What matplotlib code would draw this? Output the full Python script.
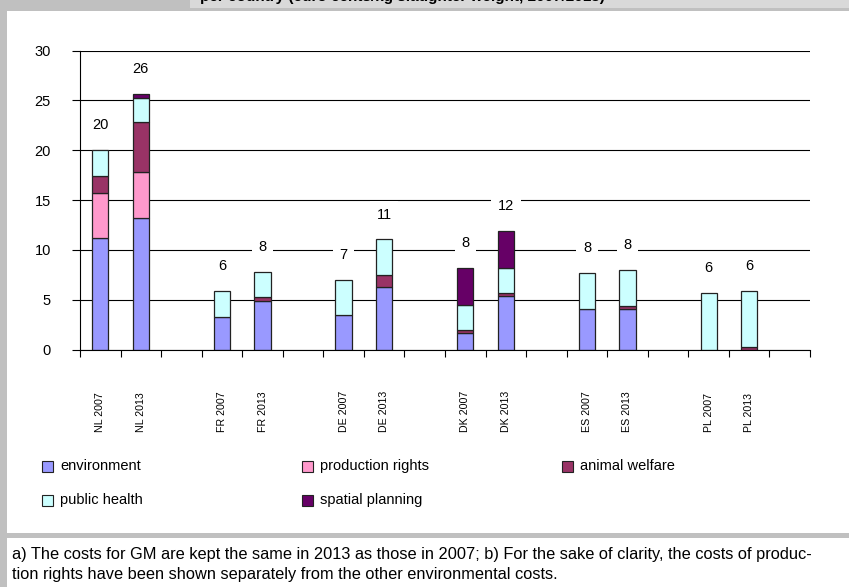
import numpy as np
import matplotlib
matplotlib.use("Agg")
from matplotlib import pyplot as plt
from matplotlib.patches import Rectangle
from matplotlib import transforms

plt.rcParams['font.family'] = ['Liberation Sans', 'DejaVu Sans']

# data (euro cents per kg)
categories = ["NL 2007", "NL 2013", "FR 2007", "FR 2013", "DE 2007", "DE 2013",
              "DK 2007", "DK 2013", "ES 2007", "ES 2013", "PL 2007", "PL 2013"]
environment = [11.15, 13.2, 3.3, 4.9, 3.45, 6.25, 1.65, 5.4, 4.1, 4.05, 0, 0]
production_rights = [4.6, 4.6, 0, 0, 0, 0, 0, 0, 0, 0, 0, 0]
animal_welfare = [1.7, 5.0, 0, 0.35, 0, 1.2, 0.3, 0.3, 0, 0.35, 0, 0.3]
public_health = [2.6, 2.5, 2.6, 2.5, 3.55, 3.6, 2.55, 2.5, 3.6, 3.55, 5.65, 5.6]
spatial_planning = [0, 0.4, 0, 0, 0, 0, 3.7, 3.7, 0, 0, 0, 0]
total_labels = ["20", "26", "6", "8", "7", "11", "8", "12", "8", "8", "6", "6"]

series_names = ["environment", "production rights", "animal welfare",
                "public health", "spatial planning"]
series_values = [environment, production_rights, animal_welfare,
                 public_health, spatial_planning]
series_colors = ["#9999ff", "#ff99cc", "#993366", "#ccffff", "#660066"]

footnote = ["a) The costs for GM are kept the same in 2013 as those in 2007; b) For the sake of clarity, the costs of produc-",
            "tion rights have been shown separately from the other environmental costs."]
title = "per country (euro cents/kg slaughter weight, 2007/2013)"

W, H = 849, 587
def fx(px):
    return px / W
def fy(py):
    return 1 - py / H

fig = plt.figure(figsize=(W / 100, H / 100), dpi=100)
fig.patch.set_facecolor("#c0c0c0")

# background panels
fig.add_artist(Rectangle((fx(7), fy(533)), fx(849 - 7), (533 - 11) / H,
                         transform=fig.transFigure, fc="white", ec="none", zorder=-2))
fig.add_artist(Rectangle((fx(7), fy(587)), fx(849 - 7), (587 - 538) / H,
                         transform=fig.transFigure, fc="white", ec="none", zorder=-2))
fig.add_artist(Rectangle((fx(190), fy(8)), fx(849 - 190), 8 / H,
                         transform=fig.transFigure, fc="#d9d9d9", ec="none", zorder=-1))
# title sits mostly above the crop, as in the source
fig.text(fx(200), fy(1.5), title, fontsize=11, fontweight="bold",
         ha="left", va="baseline")

ax = fig.add_axes([fx(80), fy(349.5), 730 / W, 298.8 / H])
ax.set_facecolor("none")

# bars sit in 18 slots: two per country plus an empty one
pos = np.array([i // 2 * 3 + i % 2 for i in range(len(categories))])
bottom = np.zeros(len(categories))
for name, vals, col in zip(series_names, series_values, series_colors):
    vals = np.array(vals, dtype=float)
    m = vals > 0
    ax.bar(pos[m], vals[m], width=0.4, bottom=bottom[m], color=col,
           edgecolor="#222222", linewidth=0.9, zorder=2)
    bottom += vals

for p, top, lab in zip(pos, bottom, total_labels):
    ax.text(p, top + 2.5, lab, ha="center", va="center", fontsize=10.5, zorder=3,
            bbox=dict(boxstyle="square,pad=0.45", fc="white", ec="none"))

ax.set_xlim(-0.5, 17.5)
ax.set_ylim(0, 30)
ax.set_yticks(np.arange(0, 31, 5))
ax.yaxis.grid(True, color="black", linewidth=0.8)
ax.set_axisbelow(True)
ax.tick_params(axis="y", length=6, width=0.8, pad=15, labelsize=10.5)
ax.set_xticks([])
ax.set_xticks(np.arange(-0.5, 18, 1), minor=True)
ax.tick_params(axis="x", which="minor", length=5, width=0.8)
for s in ["top", "right"]:
    ax.spines[s].set_visible(False)
for s in ["left", "bottom"]:
    ax.spines[s].set_linewidth(0.8)

trans = transforms.blended_transform_factory(ax.transData, fig.transFigure)
for p, lab in zip(pos, categories):
    ax.text(p, fy(432), lab, transform=trans, rotation=90, ha="center",
            va="bottom", fontsize=7.7, clip_on=False)

# legend, three per row
for i, (name, col) in enumerate(zip(series_names, series_colors)):
    x0 = 42 + (i % 3) * 260
    yc = 466 + (i // 3) * 34
    fig.add_artist(Rectangle((fx(x0), fy(yc + 5.5)), 11 / W, 11 / H,
                             transform=fig.transFigure, fc=col, ec="#222222", lw=0.8))
    fig.text(fx(x0 + 18), fy(yc), name, fontsize=10.5, ha="left", va="center")

for k, line in enumerate(footnote):
    fig.text(fx(12), fy(554 + k * 20), line, fontsize=11.8, ha="left", va="center")

fig.savefig("out.png", dpi=100, facecolor=fig.get_facecolor())
